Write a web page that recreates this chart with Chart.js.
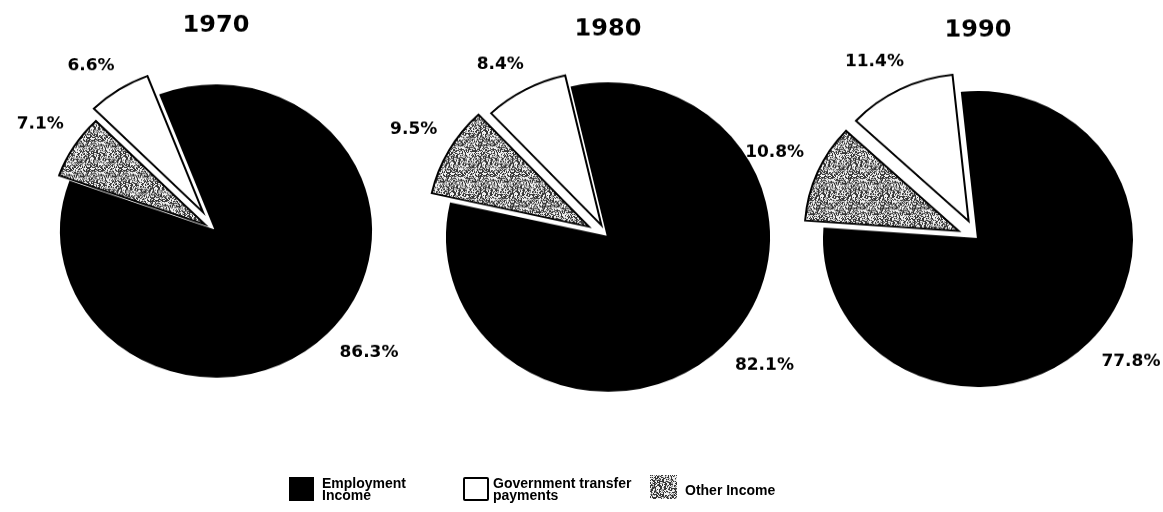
<!DOCTYPE html>
<html>
<head>
<meta charset="utf-8">
<title>Income sources</title>
<script src="https://cdn.jsdelivr.net/npm/chart.js@4.4.1/dist/chart.umd.min.js"></script>
<style>
  html, body { margin: 0; padding: 0; background: #fff; }
  #page { position: relative; width: 1163px; height: 512px; overflow: hidden; background: #fff; }
  .pie { position: absolute; transform-origin: 50% 50%; }
  .key { position: absolute; font: bold 14px "Liberation Sans", Arial, sans-serif; line-height: 12px; color: #000; white-space: nowrap; }
  .swatch { position: absolute; box-sizing: border-box; }
</style>
</head>
<body>
<div id="page"></div>
<script>
const years = ['1970', '1980', '1990'];
const categories = [['Employment', 'Income'], ['Government transfer', 'payments'], ['Other Income']];
const employmentIncome = [86.3, 82.1, 77.8];
const transferPayments = [6.6, 8.4, 11.4];
const otherIncome = [7.1, 9.5, 10.8];

// pie placement on the page and how far the two small slices are pulled out
const pieCentres = [[216, 231], [608, 237], [978, 239]];
const pieRadius = [155, 161, 154];
const squash = [0.94, 0.955, 0.955];
const titleY = [26, 30, 31];
const startAngle = [-21, -13, -6];
const otherPull = [13, 22, 21];
const transferPull = [24, 14, 21];

// label placement per slice (employment, other, transfers): angle nudge in degrees, gap from the rim
const labelShift = [-4, 0.5, -3];
const labelGap = [19, 18, 17];

const CW = 520, CH = 500;

// speckled grey fill for "other income"
function grainCanvas() {
    const n = 32;
    const c = document.createElement('canvas');
    c.width = n; c.height = n;
    const g = c.getContext('2d');
    const img = g.createImageData(n, n);
    for (let y = 0; y < n; y++) {
        for (let x = 0; x < n; x++) {
            let h = (x * 374761393 + y * 668265263) | 0;
            h = Math.imul(h ^ (h >>> 13), 1274126177);
            h = ((h ^ (h >>> 16)) >>> 0) % 100;
            const v = h < 40 ? 55 : (h < 60 ? 160 : 240);
            const k = (y * n + x) * 4;
            img.data[k] = img.data[k + 1] = img.data[k + 2] = v;
            img.data[k + 3] = 255;
        }
    }
    g.putImageData(img, 0, 0);
    return c;
}
const grainSrc = grainCanvas();
const grain = grainSrc.getContext('2d').createPattern(grainSrc, 'repeat');

// slide the small slices out along their middle angle without growing them
const explode = {
    id: 'explode',
    afterDatasetUpdate(chart, args, opts) {
        args.meta.data.forEach((arc, i) => {
            const pull = opts.pull[i] || 0;
            if (!pull) return;
            const mid = (arc.startAngle + arc.endAngle) / 2;
            arc.x += Math.cos(mid) * pull;
            arc.y += Math.sin(mid) * pull;
        });
    }
};

// percentage next to each slice plus the year above the pie
const sliceLabels = {
    id: 'sliceLabels',
    afterDatasetsDraw(chart, args, opts) {
        const ctx = chart.ctx;
        const meta = chart.getDatasetMeta(0);
        const values = chart.data.datasets[0].data;
        const area = chart.chartArea;
        ctx.save();
        ctx.fillStyle = '#000';
        ctx.textAlign = 'center';
        ctx.textBaseline = 'middle';
        ctx.font = 'bold 17px "DejaVu Sans"';
        meta.data.forEach((arc, i) => {
            const a = (arc.startAngle + arc.endAngle) / 2 + labelShift[i] * Math.PI / 180;
            const text = values[i].toFixed(1) + '%';
            const w = ctx.measureText(text).width;
            const ext = Math.abs(Math.cos(a)) * w / 2 + Math.abs(Math.sin(a)) * 6.5;
            const d = arc.outerRadius + ext + labelGap[i];
            ctx.fillText(text, arc.x + Math.cos(a) * d, arc.y + Math.sin(a) * d);
        });
        ctx.font = 'bold 24px "DejaVu Sans"';
        ctx.fillText(opts.title, (area.left + area.right) / 2, (area.top + area.bottom) / 2 + opts.titleOffset);
        ctx.restore();
    }
};

const page = document.getElementById('page');

years.forEach((year, i) => {
    const canvas = document.createElement('canvas');
    canvas.className = 'pie';
    canvas.width = CW;
    canvas.height = CH;
    canvas.style.left = (pieCentres[i][0] - CW / 2) + 'px';
    canvas.style.top = (pieCentres[i][1] - CH / 2) + 'px';
    canvas.style.transform = 'scaleY(' + squash[i] + ')';
    page.appendChild(canvas);

    new Chart(canvas, {
        type: 'pie',
        data: {
            labels: [categories[0].join(' '), categories[2].join(' '), categories[1].join(' ')],
            datasets: [{
                data: [employmentIncome[i], otherIncome[i], transferPayments[i]],
                backgroundColor: ['#000', grain, '#fff'],
                borderColor: '#000',
                borderWidth: 2,
                borderJoinStyle: 'miter'
            }]
        },
        options: {
            responsive: false,
            animation: false,
            radius: pieRadius[i],
            rotation: startAngle[i],
            layout: { padding: 0 },
            events: [],
            plugins: {
                legend: { display: false },
                tooltip: { enabled: false },
                explode: { pull: [0, otherPull[i], transferPull[i]] },
                sliceLabels: { title: year, titleOffset: (titleY[i] - pieCentres[i][1]) / squash[i] }
            }
        },
        plugins: [explode, sliceLabels]
    });
});

// legend along the bottom
const keyFill = ['#000', '#fff', 'url(' + grainSrc.toDataURL() + ')'];
const keyBox = [[289, 477, 25, 24], [463, 477, 26, 24], [650, 475, 27, 24]];
const keyText = [[322, 477], [493, 477], [685, 484]];

categories.forEach((cat, i) => {
    const sw = document.createElement('div');
    sw.className = 'swatch';
    sw.style.left = keyBox[i][0] + 'px';
    sw.style.top = keyBox[i][1] + 'px';
    sw.style.width = keyBox[i][2] + 'px';
    sw.style.height = keyBox[i][3] + 'px';
    sw.style.background = keyFill[i];
    if (i === 1) {
        sw.style.border = '2px solid #000';
        sw.style.borderRadius = '2px';
    }
    page.appendChild(sw);

    const t = document.createElement('div');
    t.className = 'key';
    t.style.left = keyText[i][0] + 'px';
    t.style.top = keyText[i][1] + 'px';
    t.innerHTML = cat.join('<br>');
    page.appendChild(t);
});
</script>
</body>
</html>
